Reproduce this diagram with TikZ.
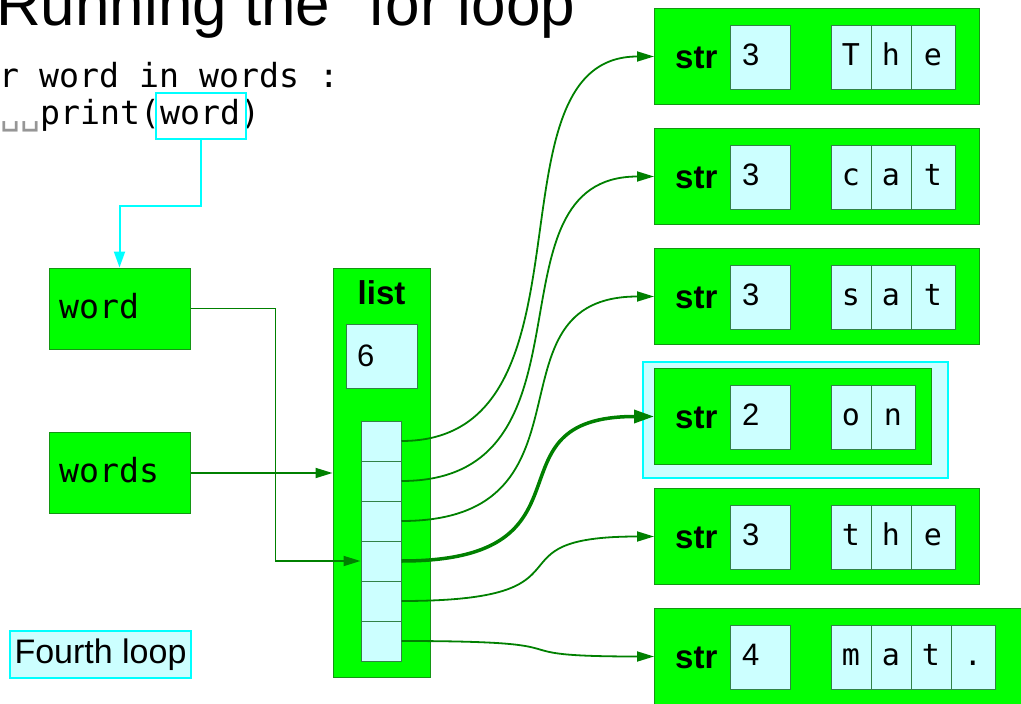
\documentclass[tikz,border=0pt]{standalone}
\usepackage{fontspec}
\setmainfont{Liberation Sans}
\newfontfamily\codefont{DejaVu Sans Mono}
\usetikzlibrary{arrows.meta}
\definecolor{gfill}{RGB}{0,255,0}
\definecolor{gline}{RGB}{20,150,20}
\definecolor{lcyan}{RGB}{204,255,255}
\definecolor{cline}{RGB}{50,130,70}
\definecolor{conn}{RGB}{0,128,0}
\definecolor{cyanl}{RGB}{0,255,255}
\definecolor{vsp}{RGB}{150,150,150}
\newcommand\mytitlef{\fontsize{62}{70}\selectfont}
\newcommand\mycodef{\codefont\fontsize{33.2}{40}\selectfont}
\newcommand\mylabf{\bfseries\fontsize{33}{40}\selectfont}
\newcommand\mynumf{\fontsize{31}{38}\selectfont}
\newcommand\mycharf{\codefont\fontsize{30}{36}\selectfont}
\newcommand\myloopf{\fontsize{34}{40}\selectfont}
\tikzset{
  gbox/.style={draw=gline, fill=gfill, line width=1pt, inner sep=0pt},
  cbox/.style={draw=cline, fill=lcyan, line width=1pt, inner sep=0pt},
  hlbox/.style={draw=cyanl, line width=2pt, inner sep=0pt},
  txt/.style={inner sep=0pt, anchor=base west},
  garrow/.style={draw=conn, line width=1.8pt, -{Triangle[length=17pt,width=10pt]}},
  thickarrow/.style={draw=conn, line width=3.5pt, -{Triangle[length=20pt,width=13pt]}},
  carrow/.style={draw=cyanl, line width=2pt, -{Triangle[length=16pt,width=11pt]}},
}
\begin{document}
\begin{tikzpicture}[x=1pt,y=-1pt]
\useasboundingbox (0,0) rectangle (1021,704);
% title and code
\node[txt] (title) at (-4,25) {\mytitlef Running the "for loop"};
\node[txt] (code1) at (-1,87) {\mycodef r word in words :};
\node[txt] (code2) at (0,124) {\mycodef{\color{vsp}␣␣}print(word)};
\node[hlbox, minimum width=90pt, minimum height=46pt] (hl) at (201,116) {};
% variables
\node[gbox, minimum width=141pt, minimum height=81pt] (word) at (119.5,308.5) {};
\node[txt] (wordt) at (59,318) {\mycodef word};
\node[gbox, minimum width=141pt, minimum height=81pt] (words) at (119.5,473) {};
\node[txt] (wordst) at (59,482) {\mycodef words};
% list
\node[gbox, minimum width=97pt, minimum height=409pt] (list) at (381.5,472.5) {};
\node[txt, anchor=base] (listt) at (381.5,304) {\mylabf list};
\node[cbox, minimum width=71pt, minimum height=64pt] (len) at (381.5,356) {};
\node[txt] (lent) at (357,366) {\mynumf 6};
\foreach \k in {1,...,6} {
  \node[cbox, minimum width=40pt, minimum height=40pt] (L\k) at (381,401+40*\k) {};
}
% connectors on the left
\draw[carrow] (hl.south) -- ++(0,66) -| (word.north);
\draw[garrow] (word.east) -- ++(85,0) |- (L4.west);
\draw[garrow] (words.east) -- (words.east -| list.west);
% highlighted string
\node[hlbox, fill=lcyan, anchor=north west, minimum width=305pt, minimum height=116pt] (hlon) at (642,361) {};
% string objects
\foreach \ii/\tp/\n/\w/\cl in {1/8/3/979/{T,h,e}, 2/128/3/979/{c,a,t}, 3/248/3/979/{s,a,t}, 4/368/2/931/{o,n}, 5/488/3/979/{t,h,e}, 6/608/4/1025/{m,a,t,.}} {
  \node[gbox, anchor=north west, minimum width={(\w-654)*1pt}, minimum height=96pt] (str\ii) at (654,\tp) {};
  \node[txt] (s\ii) at (675,\tp+60) {\mylabf str};
  \node[cbox, anchor=north west, minimum width=60pt, minimum height=64pt] (n\ii) at (730,\tp+17) {};
  \node[txt] (nt\ii) at (742,\tp+57) {\mynumf \n};
  \foreach \ch [count=\k] in \cl {
    \pgfmathsetmacro{\cw}{ifthenelse(\k==\n,44,40)}
    \node[cbox, anchor=north west, minimum width=\cw pt, minimum height=64pt] (c\ii-\k) at (831+40*\k-40,\tp+17) {};
    \node[inner sep=0pt, anchor=base] (ct\ii-\k) at (831+40*\k-40+\cw/2,\tp+57) {\mycharf \ch};
  }
}
% pointers from list cells
\foreach \k in {1,2,3,5,6} {
  \draw[garrow] (L\k.east) .. controls +(205,0) and +(-174,0) .. (str\k.west);
}
\draw[thickarrow] (L4.east) .. controls +(205,0) and +(-174,0) .. (str4.west);
% caption
\node[draw=cyanl, fill=lcyan, line width=2pt, inner sep=0pt, minimum width=181pt, minimum height=47pt] (loop) at (100.5,654.5) {\myloopf Fourth loop};
\end{tikzpicture}
\end{document}
